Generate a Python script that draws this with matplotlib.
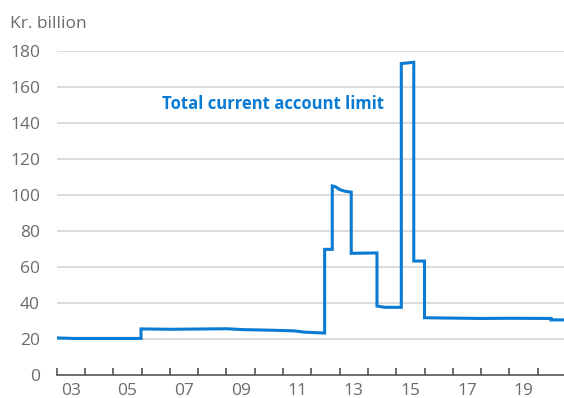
import matplotlib
matplotlib.use("Agg")
import matplotlib.pyplot as plt

plt.rcParams['font.family'] = ['Open Sans', 'DejaVu Sans']

# Total current account limit, kr. billion (decimal years)
dates = [2003.0, 2003.6, 2005.98,
         2005.98, 2007.0, 2008.5, 2009.0, 2009.6, 2010.5, 2011.0, 2011.4, 2011.75, 2012.47,
         2012.47, 2012.74,
         2012.74, 2012.85, 2013.0, 2013.2, 2013.41,
         2013.41, 2014.32,
         2014.32, 2014.6, 2015.18,
         2015.18, 2015.62,
         2015.62, 2016.0,
         2016.0, 2017.0, 2018.0, 2019.0, 2020.47,
         2020.47, 2020.93]
values = [20.6, 20.3, 20.3,
          25.6, 25.4, 25.6, 25.7, 25.2, 24.9, 24.7, 24.5, 23.8, 23.3,
          69.8, 69.8,
          105.0, 104.6, 103.0, 102.0, 101.6,
          67.6, 67.8,
          38.3, 37.6, 37.6,
          173.0, 173.7,
          63.3, 63.3,
          31.8, 31.6, 31.4, 31.5, 31.4,
          30.6, 30.6]

y_ticks = [0, 20, 40, 60, 80, 100, 120, 140, 160, 180]
year_ticks = list(range(2003, 2021))
label_years = [2003, 2005, 2007, 2009, 2011, 2013, 2015, 2017, 2019]
label_texts = ['03', '05', '07', '09', '11', '13', '15', '17', '19']

blue = '#0a7bd3'
grey_text = '#6b6b6b'

fig = plt.figure(figsize=(5.64, 3.98), dpi=100)
ax = fig.add_axes([0.1005, 0.0578, 0.8995, 0.8142])

ax.plot(dates, values, color=blue, lw=2.2, solid_joinstyle='miter', zorder=3)

ax.set_xlim(2003.0, 2020.93)
ax.set_ylim(0, 180)

# horizontal gridlines
for v in y_ticks[1:]:
    ax.axhline(v, color='#d9d9d9', lw=1.3, zorder=1)

ax.set_yticks(y_ticks)
ax.tick_params(axis='y', length=0, pad=12, labelsize=12.5, labelcolor=grey_text)

# year boundary ticks, labels centred within the year
ax.set_xticks(year_ticks)
ax.set_xticks([y + 0.5 for y in label_years], minor=True)
ax.set_xticklabels([], minor=False)
ax.set_xticklabels(label_texts, minor=True)
ax.tick_params(axis='x', which='major', direction='in', length=5, width=1.2, color='#555555')
ax.tick_params(axis='x', which='minor', length=0, pad=6, labelsize=12.5, labelcolor=grey_text)

for s in ['top', 'right', 'left']:
    ax.spines[s].set_visible(False)
ax.spines['bottom'].set_color('#555555')
ax.spines['bottom'].set_linewidth(1.2)

ax.text(2006.73, 150.5, 'Total current account limit', color=blue, fontsize=12,
        fontweight='bold', ha='left', va='center')

fig.text(10 / 564, 1 - 24 / 398, 'Kr. billion', color=grey_text, fontsize=12.5,
         ha='left', va='center')

fig.savefig('out.png', dpi=100)
